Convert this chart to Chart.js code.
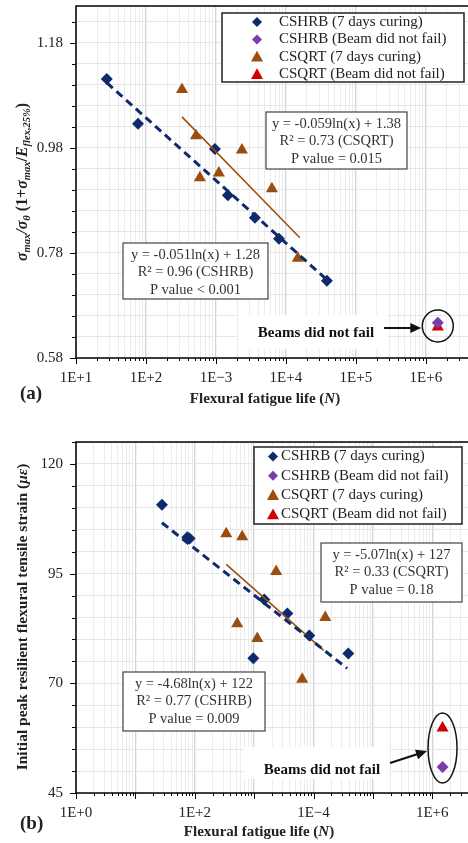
<!DOCTYPE html>
<html>
<head>
<meta charset="utf-8">
<script src="https://cdn.jsdelivr.net/npm/chart.js@4.4.1/dist/chart.umd.min.js"></script>
<style>
  body { margin: 0; background: #fff; }
  canvas { display: block; }
</style>
</head>
<body>
<canvas id="chartA" width="468" height="420"></canvas>
<canvas id="chartB" width="468" height="423"></canvas>
<script>
// ---- panel (a) data ----
var aHrbN = [27.5, 77, 968, 1480, 3600, 7940, 38500];
var aHrbY = [1.111, 1.026, 0.978, 0.890, 0.847, 0.807, 0.727];
var aQrtN = [327, 518, 590, 1100, 2350, 6300, 14800];
var aQrtY = [1.091, 1.003, 0.923, 0.932, 0.976, 0.902, 0.770];
var aHrbOkN = [1.48e6], aHrbOkY = [0.647];
var aQrtOkN = [1.48e6], aQrtOkY = [0.639];
var aHrbFitN = [27.5, 38500], aHrbFitY = [1.104, 0.729];
var aQrtFitN = [327, 15800], aQrtFitY = [1.039, 0.809];
var aXTickLabels = ['1E+1', '1E+2', '1E\u22123', '1E+4', '1E+5', '1E+6'];
var aXTickValues = [1e1, 1e2, 1e3, 1e4, 1e5, 1e6];
var aYTickLabels = ['0.58', '0.78', '0.98', '1.18'];

// ---- panel (b) data ----
var bHrbN = [28, 75, 82, 970, 1480, 3630, 8500, 38600];
var bHrbY = [110.7, 103.3, 103.0, 75.7, 89.1, 85.9, 80.9, 76.8];
var bQrtN = [339, 630, 2350, 519, 1130, 15800, 6450];
var bQrtY = [104.1, 103.4, 95.5, 83.6, 80.2, 85.0, 70.9];
var bHrbOkN = [1.49e6], bHrbOkY = [50.9];
var bQrtOkN = [1.49e6], bQrtOkY = [59.8];
var bHrbFitN = [28, 37000], bHrbFitY = [106.6, 73.4];
var bQrtFitN = [339, 14800], bQrtFitY = [97.1, 77.5];
var bXTickLabels = ['1E+0', '1E+2', '1E\u22124', '1E+6'];
var bXTickValues = [1e0, 1e2, 1e4, 1e6];
var bYTickLabels = ['45', '70', '95', '120'];

var legendLabels = ['CSHRB (7 days curing)', 'CSHRB (Beam did not fail)', 'CSQRT (7 days curing)', 'CSQRT (Beam did not fail)'];

var NAVY = '#0d2a6b', PURPLE = '#7a3cb0', BROWN = '#9a4d0f', RED = '#d00000';
var SERIF = '"Liberation Serif", "Times New Roman", serif';

function pts(xs, ys) {
  return xs.map(function(x, i) { return {x: x, y: ys[i]}; });
}

function isDecade(v) {
  var l = Math.log10(v);
  return Math.abs(l - Math.round(l)) < 1e-9;
}

function richText(ctx, runs, x, y) {
  var w = 0;
  runs.forEach(function(r) { ctx.font = r[1]; w += ctx.measureText(r[0]).width; });
  var cx = x - w / 2;
  runs.forEach(function(r) {
    ctx.font = r[1];
    ctx.fillText(r[0], cx, y + (r[2] || 0));
    cx += ctx.measureText(r[0]).width;
  });
}

function marker(ctx, kind, color, x, y, r) {
  ctx.fillStyle = color;
  ctx.beginPath();
  if (kind === 'd') {
    ctx.moveTo(x, y - r); ctx.lineTo(x + r, y); ctx.lineTo(x, y + r); ctx.lineTo(x - r, y);
  } else {
    ctx.moveTo(x, y - r); ctx.lineTo(x + r, y + r * 0.8); ctx.lineTo(x - r, y + r * 0.8);
  }
  ctx.closePath();
  ctx.fill();
}

var deco = {
  id: 'deco',
  beforeDatasetsDraw: function(chart, args, o) {
    var ctx = chart.ctx;
    ctx.save();
    ctx.fillStyle = '#fff';
    ctx.fillRect(o.note.bg[0], o.note.bg[1], o.note.bg[2], o.note.bg[3]);
    ctx.restore();
  },
  afterDatasetsDraw: function(chart, args, o) {
    var ctx = chart.ctx, a = chart.chartArea;
    var xs = chart.scales.x, ys = chart.scales.y;
    ctx.save();

    // frame
    ctx.strokeStyle = '#000';
    ctx.lineWidth = 1.5;
    ctx.strokeRect(a.left, a.top, a.right - a.left + 5, a.bottom - a.top);

    // tick marks
    ctx.lineWidth = 1;
    xs.ticks.forEach(function(t) {
      var px = Math.round(xs.getPixelForValue(t.value)) + 0.5;
      var len = isDecade(t.value) ? 6 : 3;
      ctx.beginPath(); ctx.moveTo(px, a.bottom); ctx.lineTo(px, a.bottom + len); ctx.stroke();
    });
    ys.ticks.forEach(function(t, i) {
      var py = Math.round(ys.getPixelForValue(t.value)) + 0.5;
      var len = (i % 5 === 0) ? 6 : 4;
      ctx.beginPath(); ctx.moveTo(a.left - len, py); ctx.lineTo(a.left, py); ctx.stroke();
    });

    // legend
    var L = o.legend;
    ctx.fillStyle = '#fff';
    ctx.fillRect(L.x, L.y, L.w, L.h);
    ctx.strokeStyle = '#222';
    ctx.lineWidth = 1.5;
    ctx.strokeRect(L.x, L.y, L.w, L.h);
    var kinds = [['d', NAVY], ['d', PURPLE], ['t', BROWN], ['t', RED]];
    ctx.textBaseline = 'middle';
    ctx.textAlign = 'left';
    legendLabels.forEach(function(lab, i) {
      var yy = L.y + L.row0 + i * L.step;
      marker(ctx, kinds[i][0], kinds[i][1], L.mx, yy, kinds[i][0] === 'd' ? 5 : 6);
      ctx.fillStyle = '#222';
      ctx.font = '15px ' + SERIF;
      ctx.fillText(lab, L.tx, yy);
    });

    // equation boxes
    o.boxes.forEach(function(b) {
      ctx.fillStyle = '#fff';
      ctx.fillRect(b.x, b.y, b.w, b.h);
      ctx.strokeStyle = '#444';
      ctx.lineWidth = 1.2;
      ctx.strokeRect(b.x, b.y, b.w, b.h);
      ctx.fillStyle = '#333';
      ctx.font = '14.5px ' + SERIF;
      ctx.textAlign = 'center';
      b.lines.forEach(function(s, i) {
        ctx.fillText(s, b.x + b.w / 2, b.y + 12 + i * 17.5);
      });
    });

    // "Beams did not fail" note
    var n = o.note;
    ctx.fillStyle = '#111';
    ctx.font = 'bold 15px ' + SERIF;
    ctx.textAlign = 'center';
    ctx.fillText('Beams did not fail', n.tx, n.ty);
    var cx = xs.getPixelForValue(n.okN);
    ctx.strokeStyle = '#111';
    ctx.lineWidth = 1.5;
    ctx.beginPath();
    ctx.ellipse(cx, n.ey, n.rx, n.ry, 0, 0, Math.PI * 2);
    ctx.stroke();
    var ax0 = n.arrow[0], ay0 = n.arrow[1], ax1 = cx - n.rx - 1, ay1 = n.arrow[2];
    var ang = Math.atan2(ay1 - ay0, ax1 - ax0);
    ctx.lineWidth = 2;
    ctx.beginPath(); ctx.moveTo(ax0, ay0); ctx.lineTo(ax1 - 8 * Math.cos(ang), ay1 - 8 * Math.sin(ang)); ctx.stroke();
    ctx.fillStyle = '#111';
    ctx.beginPath();
    ctx.moveTo(ax1, ay1);
    ctx.lineTo(ax1 - 11 * Math.cos(ang) + 5 * Math.sin(ang), ay1 - 11 * Math.sin(ang) - 5 * Math.cos(ang));
    ctx.lineTo(ax1 - 11 * Math.cos(ang) - 5 * Math.sin(ang), ay1 - 11 * Math.sin(ang) + 5 * Math.cos(ang));
    ctx.closePath();
    ctx.fill();

    // titles
    ctx.textAlign = 'left';
    ctx.textBaseline = 'alphabetic';
    ctx.fillStyle = '#222';
    var B = 'bold 15px ' + SERIF, BI = 'bold italic 15px ' + SERIF;
    richText(ctx, [['Flexural fatigue life (', B], ['N', BI], [')', B]], o.xTitleX, o.xTitleY);
    ctx.font = 'bold 19px ' + SERIF;
    ctx.fillText(o.tag, 20, o.tagY);

    ctx.save();
    ctx.translate(o.yTitle.x, o.yTitle.y);
    ctx.rotate(-Math.PI / 2);
    richText(ctx, o.yTitle.runs, 0, 0);
    ctx.restore();

    ctx.restore();
  }
};

function makeChart(id, p) {
  var yTicks = [];
  for (var i = 0; p.yMin + i * p.yStep <= p.yMax + 1e-9; i++) {
    yTicks.push({value: Math.round((p.yMin + i * p.yStep) * 1000) / 1000});
  }
  var xTicks = [];
  for (var e = Math.round(Math.log10(p.xMin)); e <= 7; e++) {
    for (var m = 1; m <= 9; m++) {
      var v = m * Math.pow(10, e);
      if (v >= p.xMin && v <= p.xMax) xTicks.push({value: v});
    }
  }
  return new Chart(document.getElementById(id).getContext('2d'), {
    type: 'scatter',
    data: {
      datasets: [
        {data: pts(p.hrbFitN, p.hrbFitY), showLine: true, borderColor: NAVY, borderWidth: 3, borderDash: [8, 5], pointRadius: 0},
        {data: pts(p.qrtFitN, p.qrtFitY), showLine: true, borderColor: BROWN, borderWidth: 1.5, pointRadius: 0},
        {data: pts(p.hrbN, p.hrbY), pointStyle: 'rectRot', pointRadius: 6, backgroundColor: NAVY, borderColor: NAVY, borderWidth: 0},
        {data: pts(p.qrtN, p.qrtY), pointStyle: 'triangle', pointRadius: 7, backgroundColor: BROWN, borderColor: BROWN, borderWidth: 0},
        {data: pts(p.hrbOkN, p.hrbOkY), pointStyle: 'rectRot', pointRadius: 6, backgroundColor: PURPLE, borderColor: PURPLE, borderWidth: 0},
        {data: pts(p.qrtOkN, p.qrtOkY), pointStyle: 'triangle', pointRadius: 7, backgroundColor: RED, borderColor: RED, borderWidth: 0}
      ]
    },
    options: {
      responsive: false,
      animation: false,
      devicePixelRatio: 1,
      clip: false,
      layout: {autoPadding: false, padding: {top: p.padTop, right: 0, left: 0, bottom: 0}},
      plugins: {legend: {display: false}, tooltip: {enabled: false}, deco: p.deco},
      scales: {
        x: {
          type: 'logarithmic', min: p.xMin, max: p.xMax,
          afterBuildTicks: function(s) { s.ticks = xTicks.slice(); },
          afterFit: function(s) { s.height = p.xAxisH; s.paddingLeft = 0; s.paddingRight = 0; },
          grid: {
            drawTicks: false,
            color: function(c) { return c.tick && isDecade(c.tick.value) ? '#d4d4d4' : '#ececec'; },
            lineWidth: function(c) { return c.tick && isDecade(c.tick.value) ? 1.3 : 1; }
          },
          border: {display: false},
          ticks: {
            autoSkip: false, maxRotation: 0, padding: 11, color: '#222',
            font: {family: SERIF, size: 15},
            callback: function(v) {
              var k = p.xTickValues.findIndex(function(t) { return Math.abs(t - v) / t < 1e-6; });
              return k >= 0 ? p.xTickLabels[k] : '';
            }
          }
        },
        y: {
          min: p.yMin, max: p.yMax,
          afterBuildTicks: function(s) { s.ticks = yTicks.slice(); },
          afterFit: function(s) { s.width = 76; s.paddingTop = 0; s.paddingBottom = 0; },
          grid: {drawTicks: false, color: '#e6e6e6'},
          border: {display: false},
          ticks: {
            padding: 13, color: '#222',
            font: {family: SERIF, size: 15},
            callback: function(v, i) { return i % 5 === 0 ? p.yTickLabels[i / 5] : ''; }
          }
        }
      }
    },
    plugins: [deco]
  });
}

var SI = 'bold italic 16px ' + SERIF, SS = 'bold italic 10.5px ' + SERIF, SB = 'bold 16px ' + SERIF;

makeChart('chartA', {
  hrbN: aHrbN, hrbY: aHrbY, qrtN: aQrtN, qrtY: aQrtY,
  hrbOkN: aHrbOkN, hrbOkY: aHrbOkY, qrtOkN: aQrtOkN, qrtOkY: aQrtOkY,
  hrbFitN: aHrbFitN, hrbFitY: aHrbFitY, qrtFitN: aQrtFitN, qrtFitY: aQrtFitY,
  xMin: 10, xMax: 4e6, yMin: 0.58, yMax: 1.25, yStep: 0.04,
  xTickLabels: aXTickLabels, xTickValues: aXTickValues, yTickLabels: aYTickLabels,
  padTop: 6, xAxisH: 62,
  deco: {
    legend: {x: 222, y: 13, w: 242, h: 69, row0: 9, step: 17.4, mx: 257, tx: 279},
    boxes: [
      {x: 266, y: 112, w: 141, h: 57, lines: ['y = -0.059ln(x) + 1.38', 'R\u00b2 = 0.73 (CSQRT)', 'P value = 0.015']},
      {x: 123, y: 243, w: 145, h: 56, lines: ['y = -0.051ln(x) + 1.28', 'R\u00b2 = 0.96 (CSHRB)', 'P value < 0.001']}
    ],
    note: {bg: [238, 315, 150, 34], tx: 316, ty: 333, okN: 1.48e6, ey: 326, rx: 15.5, ry: 16, arrow: [384, 328, 328]},
    xTitleX: 265, xTitleY: 403, tag: '(a)', tagY: 399,
    yTitle: {x: 27, y: 182, runs: [
      ['\u03c3', SI], ['max', SS, 3], ['/\u03c3', SI], ['\u03b8', SS, 3], [' (1+', SB], ['\u03c3', SI], ['max', SS, 3],
      ['/', SB], ['E', SI], ['flex,25%', SS, 3], [')', SB]
    ]}
  }
});

makeChart('chartB', {
  hrbN: bHrbN, hrbY: bHrbY, qrtN: bQrtN, qrtY: bQrtY,
  hrbOkN: bHrbOkN, hrbOkY: bHrbOkY, qrtOkN: bQrtOkN, qrtOkY: bQrtOkY,
  hrbFitN: bHrbFitN, hrbFitY: bHrbFitY, qrtFitN: bQrtFitN, qrtFitY: bQrtFitY,
  xMin: 1, xMax: 4e6, yMin: 45, yMax: 125, yStep: 5,
  xTickLabels: bXTickLabels, xTickValues: bXTickValues, yTickLabels: bYTickLabels,
  padTop: 22, xAxisH: 50,
  deco: {
    legend: {x: 254, y: 27, w: 208, h: 77, row0: 9.5, step: 19.3, mx: 273, tx: 281},
    boxes: [
      {x: 321, y: 123, w: 141, h: 59, lines: ['y = -5.07ln(x) + 127', 'R\u00b2 = 0.33 (CSQRT)', 'P value = 0.18']},
      {x: 123, y: 252, w: 142, h: 59, lines: ['y = -4.68ln(x) + 122', 'R\u00b2 = 0.77 (CSHRB)', 'P value = 0.009']}
    ],
    note: {bg: [244, 327, 146, 32], tx: 322, ty: 350, okN: 1.49e6, ey: 328, rx: 14.5, ry: 35, arrow: [390, 343, 331]},
    xTitleX: 259, xTitleY: 416, tag: '(b)', tagY: 409,
    yTitle: {x: 27, y: 197, runs: [
      ['Initial peak resilient flexural tensile strain (', 'bold 15.5px ' + SERIF], ['\u03bc\u03b5', 'bold italic 15.5px ' + SERIF], [')', 'bold 15.5px ' + SERIF]
    ]}
  }
});
</script>
</body>
</html>
